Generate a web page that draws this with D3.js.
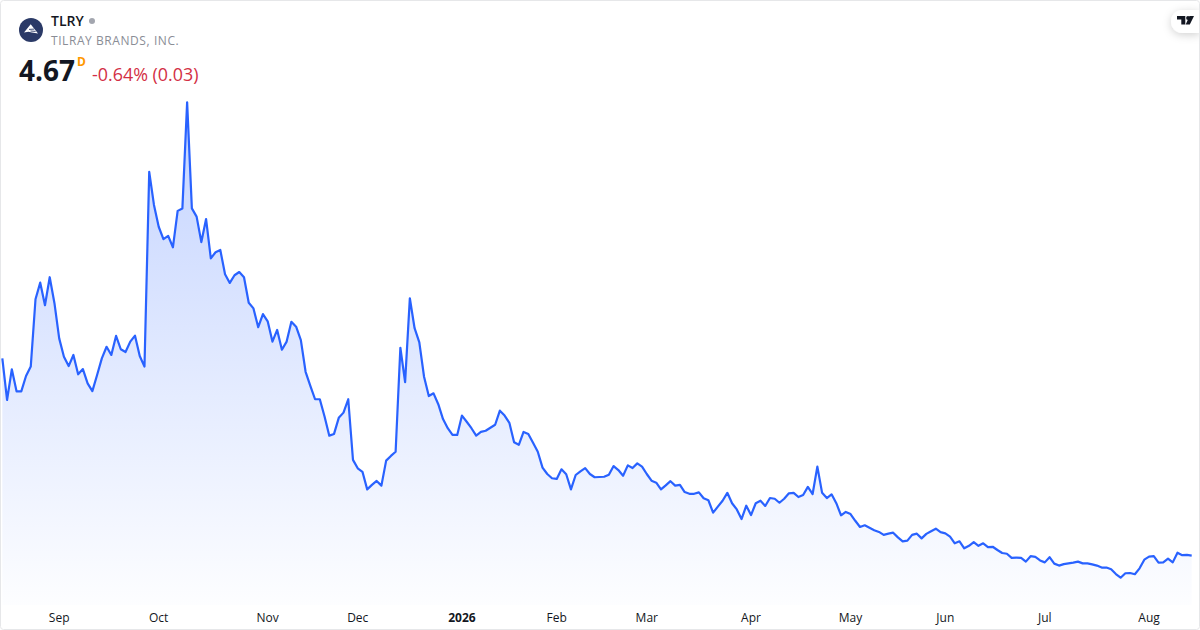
<!DOCTYPE html>
<html><head><meta charset="utf-8">
<script src="https://cdn.jsdelivr.net/npm/d3@7"></script>
<style>
html,body{margin:0;padding:0;background:#fff;width:1200px;height:630px;overflow:hidden}
svg{display:block}
text{font-family:"Open Sans","Noto Sans",sans-serif}
</style></head><body><svg id="c" width="1200" height="630"></svg>
<script>
const prices=[12.64,10.96,12.20,11.31,11.31,11.93,12.31,15.03,15.70,14.79,15.92,14.87,13.45,12.71,12.33,12.78,12.00,12.21,11.63,11.32,11.97,12.64,13.11,12.78,13.55,13.01,12.90,13.32,13.56,12.74,12.31,
20.18,18.84,17.96,17.46,17.59,17.13,18.60,18.70,22.99,18.70,18.37,17.34,18.27,16.68,16.93,17.02,16.04,15.69,16.00,16.13,15.92,14.89,14.66,13.90,14.43,14.14,13.32,13.79,12.99,13.32,14.12,13.92,
13.38,12.10,11.53,10.99,10.99,10.29,9.52,9.59,10.24,10.45,10.99,8.54,8.20,8.06,7.35,7.53,7.69,7.50,8.51,8.70,8.87,13.07,11.68,15.07,13.86,13.29,11.90,11.12,11.23,10.79,10.19,9.82,9.55,9.55,10.33,10.08,9.82,9.52,9.67,9.72,9.84,9.96,10.53,10.33,10.04,9.25,9.15,9.67,9.59,9.23,8.87,8.23,7.97,7.80,7.77,8.16,7.96,7.35,7.93,8.08,8.21,7.97,7.84,
7.85,7.86,7.94,8.29,8.13,7.90,8.32,8.21,8.40,8.27,7.97,7.70,7.62,7.35,7.51,7.68,7.50,7.53,7.24,7.17,7.17,7.23,6.99,6.91,6.41,6.65,6.89,7.21,6.79,6.54,6.15,6.69,6.31,6.79,6.89,6.68,7.00,6.97,6.81,6.97,7.19,7.21,7.04,7.12,7.45,7.16,8.27,7.21,7.00,7.15,6.79,6.30,6.44,6.35,6.08,5.83,5.90,5.80,5.70,5.63,5.51,
5.56,5.60,5.41,5.25,5.28,5.51,5.56,5.37,5.55,5.66,5.76,5.62,5.57,5.44,5.17,5.25,4.97,5.07,5.22,5.07,5.17,5.02,5.03,4.90,4.78,4.75,4.58,4.59,4.58,4.43,4.65,4.62,4.48,4.40,4.61,4.35,4.27,4.33,4.36,4.39,4.43,4.36,4.36,4.32,4.27,4.19,4.19,4.12,3.93,3.78,3.96,3.97,3.92,4.16,4.51,4.63,4.65,4.39,4.40,4.55,4.40,4.79,4.69,4.70,4.67];
const tickLabels=["Sep","Oct","Nov","Dec","2026","Feb","Mar","Apr","May","Jun","Jul","Aug"];
const tickBars=[12,33,56,75,97,117,136,158,179,199,220,242];
const symbol="TLRY", company="TILRAY BRANDS, INC.", lastPrice="4.67", change="-0.64% (0.03)", interval="D";

const W=1200,H=630;
const svg=d3.select("#c");
const x=d3.scaleLinear().domain([0,prices.length-1]).range([2.33,1191.7]);
const y=d3.scaleLinear().domain([1.668,27.12]).range([630,0]);

const defs=svg.append("defs");
const g=defs.append("linearGradient").attr("id","fill")
 .attr("gradientUnits","userSpaceOnUse").attr("x1",0).attr("y1",102).attr("x2",0).attr("y2",605);
g.append("stop").attr("offset",0).attr("stop-color","#2962FF").attr("stop-opacity",0.28);
g.append("stop").attr("offset",1).attr("stop-color","#2962FF").attr("stop-opacity",0.01);
const sh=defs.append("filter").attr("id","sh").attr("x","-50%").attr("y","-50%").attr("width","200%").attr("height","200%");
sh.append("feDropShadow").attr("dx",0).attr("dy",2).attr("stdDeviation",4).attr("flood-color","#000").attr("flood-opacity",0.18);

svg.append("path").datum(prices).attr("fill","url(#fill)")
 .attr("d",d3.area().x((d,i)=>x(i)).y0(605).y1(d=>y(d)));
svg.append("path").datum(prices).attr("fill","none").attr("stroke","#2962FF").attr("stroke-width",2.2).attr("stroke-linejoin","round")
 .attr("d",d3.line().x((d,i)=>x(i)).y(d=>y(d)));

const ax=svg.append("g").attr("transform","translate(-0.5,604)").call(
 d3.axisBottom(x).tickValues(tickBars).tickSize(0).tickPadding(9).tickFormat((d,i)=>tickLabels[i]));
ax.select(".domain").remove();
ax.selectAll("text").attr("font-size",12).attr("fill","#131722").attr("font-family",'"Open Sans",sans-serif')
 .attr("font-weight",(d,i)=>tickLabels[i]==="2026"?700:400);

// header
const lg=svg.append("g").attr("transform","translate(31,30)");
lg.append("circle").attr("r",12).attr("fill","#2b3a67");
lg.append("path").attr("d","M-7 2.6 L-0.3 -5.7 L7 3.4 L1 2.4 L-2.5 1.8 Z").attr("fill","#fff");
lg.append("path").attr("d","M-2 -0.6 L3.2 -0.9 M-0.5 1 L4.6 1.4").attr("stroke","#2b3a67").attr("stroke-width",0.9).attr("fill","none");
svg.append("text").attr("x",51).attr("y",26).attr("font-size",14).attr("font-weight",600).attr("fill","#131722").text(symbol);
svg.append("circle").attr("cx",92).attr("cy",21).attr("r",3).attr("fill","#a3a6af");
svg.append("text").attr("x",51).attr("y",45).attr("font-size",12).attr("fill","#8a8d96").attr("letter-spacing",0.57).text(company);
svg.append("text").attr("x",19).attr("y",81).attr("font-size",28).attr("font-weight",700).attr("fill","#131722").text(lastPrice);
svg.append("text").attr("x",77).attr("y",65.5).attr("font-size",12).attr("font-weight",700).attr("fill","#ff9800").text(interval);
svg.append("text").attr("x",92).attr("y",81).attr("font-size",17.9).attr("fill","#d32f45").text(change);

// logo badge
svg.append("path").attr("d","M1200 10 H1182 A11.5 11.5 0 0 0 1171 21.5 A11.5 11.5 0 0 0 1182 33 H1200 Z").attr("fill","#fff").attr("filter","url(#sh)");
svg.append("path").attr("d","M1177 16 H1185.3 V24.5 H1181.3 V19.6 H1177 Z M1189.5 16 H1194 L1189.8 24.5 H1185.7 Z").attr("fill","#131722");
svg.append("circle").attr("cx",1188).attr("cy",18).attr("r",1.9).attr("fill","#131722");

// frame
svg.append("rect").attr("x",0.5).attr("y",0.5).attr("width",W-1).attr("height",H-1).attr("rx",3).attr("fill","none").attr("stroke","#e6e7e9");
</script></body></html>
